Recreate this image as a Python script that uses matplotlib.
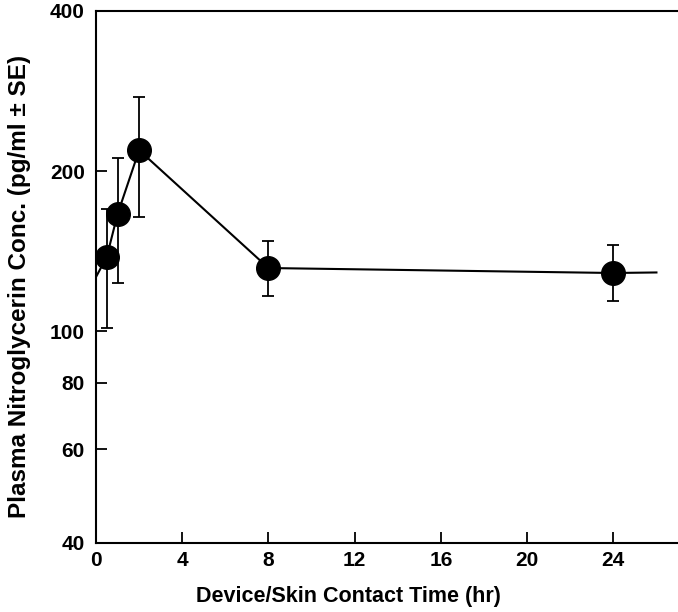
import matplotlib
matplotlib.use("Agg")
import matplotlib.pyplot as plt
from matplotlib.ticker import FixedLocator, FixedFormatter, NullLocator

# Data
time_hr = [0.5, 1, 2, 8, 24]
conc = [138, 166, 219, 131.5, 128.7]
err_upper = [170, 212, 276, 148, 145]
err_lower = [101.5, 123, 164, 116.5, 114]

# connecting curve (extends past the first and last points)
curve_t = [0, 0.5, 1, 2, 8, 24, 26]
curve_c = [126.5, 138, 166, 219, 131.5, 128.7, 129]

x_ticks = [0, 4, 8, 12, 16, 20, 24]
y_ticks = [40, 60, 80, 100, 200, 400]
y_tick_labels = ["40", "60", "80", "100", "200", "400"]

plt.rcParams['font.family'] = ['Liberation Sans', 'DejaVu Sans']
plt.rcParams['font.weight'] = 'bold'

fig = plt.figure(figsize=(6.78, 6.12), dpi=100)
ax = fig.add_axes([96/678, 69/612, 582/678, 532/612])

ax.plot(curve_t, curve_c, color='black', lw=1.5, zorder=2)
yerr = [[c - l for c, l in zip(conc, err_lower)], [u - c for c, u in zip(conc, err_upper)]]
ax.errorbar(time_hr, conc, yerr=yerr, fmt='none', ecolor='black', elinewidth=1.3,
            capsize=4.5, capthick=1.3, zorder=3)
ax.plot(time_hr, conc, 'o', color='black', markersize=17, zorder=4)

ax.set_yscale('log')
ax.set_ylim(40, 400)
ax.set_xlim(0, 27)
ax.yaxis.set_major_locator(FixedLocator(y_ticks))
ax.yaxis.set_major_formatter(FixedFormatter(y_tick_labels))
ax.yaxis.set_minor_locator(NullLocator())
ax.set_xticks(x_ticks)
ax.set_xticklabels([str(t) for t in x_ticks])

for side in ['left', 'bottom', 'top']:
    ax.spines[side].set_linewidth(1.5)
ax.spines['right'].set_visible(False)

ax.tick_params(axis='both', direction='in', length=8, width=1.3, labelsize=15)
ax.tick_params(axis='x', pad=6)
ax.tick_params(axis='y', pad=8)
for lab in ax.get_xticklabels() + ax.get_yticklabels():
    lab.set_fontweight('bold')

ax.set_xlabel('Device/Skin Contact Time (hr)', fontsize=15.5, fontweight='bold')
ax.xaxis.set_label_coords(0.433, -0.080)
ax.set_ylabel('Plasma Nitroglycerin Conc. (pg/ml \u00b1 SE)', fontsize=17.5, fontweight='bold')
ax.yaxis.set_label_coords(-0.112, 0.483)

fig.savefig('out.png', dpi=100)
